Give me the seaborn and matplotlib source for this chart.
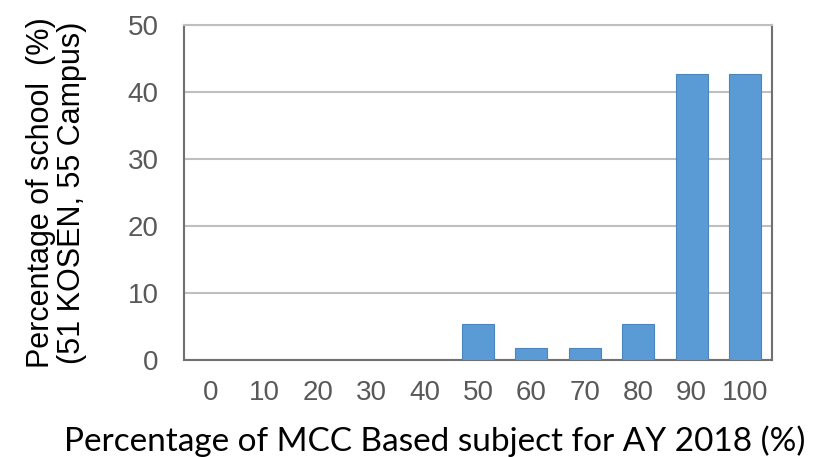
import pandas as pd
import seaborn as sns
import matplotlib.pyplot as plt

categories = ['0', '10', '20', '30', '40', '50', '60', '70', '80', '90', '100']
percent_school = [0, 0, 0, 0, 0, 5.45, 1.82, 1.82, 5.45, 42.7, 42.7]

df = pd.DataFrame({'mcc': categories, 'pct': percent_school})

sns.set_style('white')
plt.rcParams['font.family'] = ['Liberation Sans', 'DejaVu Sans']

fig = plt.figure(figsize=(8.15, 4.57), dpi=100)
ax = fig.add_axes([0.226, 0.212, 0.721, 0.733])

sns.barplot(data=df, x='mcc', y='pct', color='#5B9BD5', width=0.6,
            edgecolor='#4a86bd', linewidth=0.8, saturation=1, ax=ax, zorder=3)

ax.set_ylim(0, 50)
ax.set_yticks([0, 10, 20, 30, 40, 50])
ax.yaxis.grid(True, color='#bfbfbf', linewidth=1.5, zorder=0)
ax.set_axisbelow(True)
for side in ['left', 'right', 'bottom']:
    ax.spines[side].set_color('#707070')
    ax.spines[side].set_linewidth(1.5)
ax.spines['top'].set_color('#bfbfbf')
ax.spines['top'].set_linewidth(1.5)

ax.tick_params(axis='x', length=0, labelsize=20, labelcolor='#595959', pad=14)
ax.tick_params(axis='y', length=0, labelsize=20, labelcolor='#595959', pad=18.5)

ax.set_ylabel('Percentage of school  (%)\n(51 KOSEN, 55 Campus)', fontsize=22,
              color='black', linespacing=1.05)
ax.yaxis.set_label_coords(-0.165, 0.5)
ax.set_xlabel('Percentage of MCC Based subject for AY 2018 (%)', fontsize=24,
              family=['Lato', 'DejaVu Sans'], color='black')
ax.xaxis.set_label_coords(0.427, -0.195)

fig.savefig('out.png', dpi=100)
